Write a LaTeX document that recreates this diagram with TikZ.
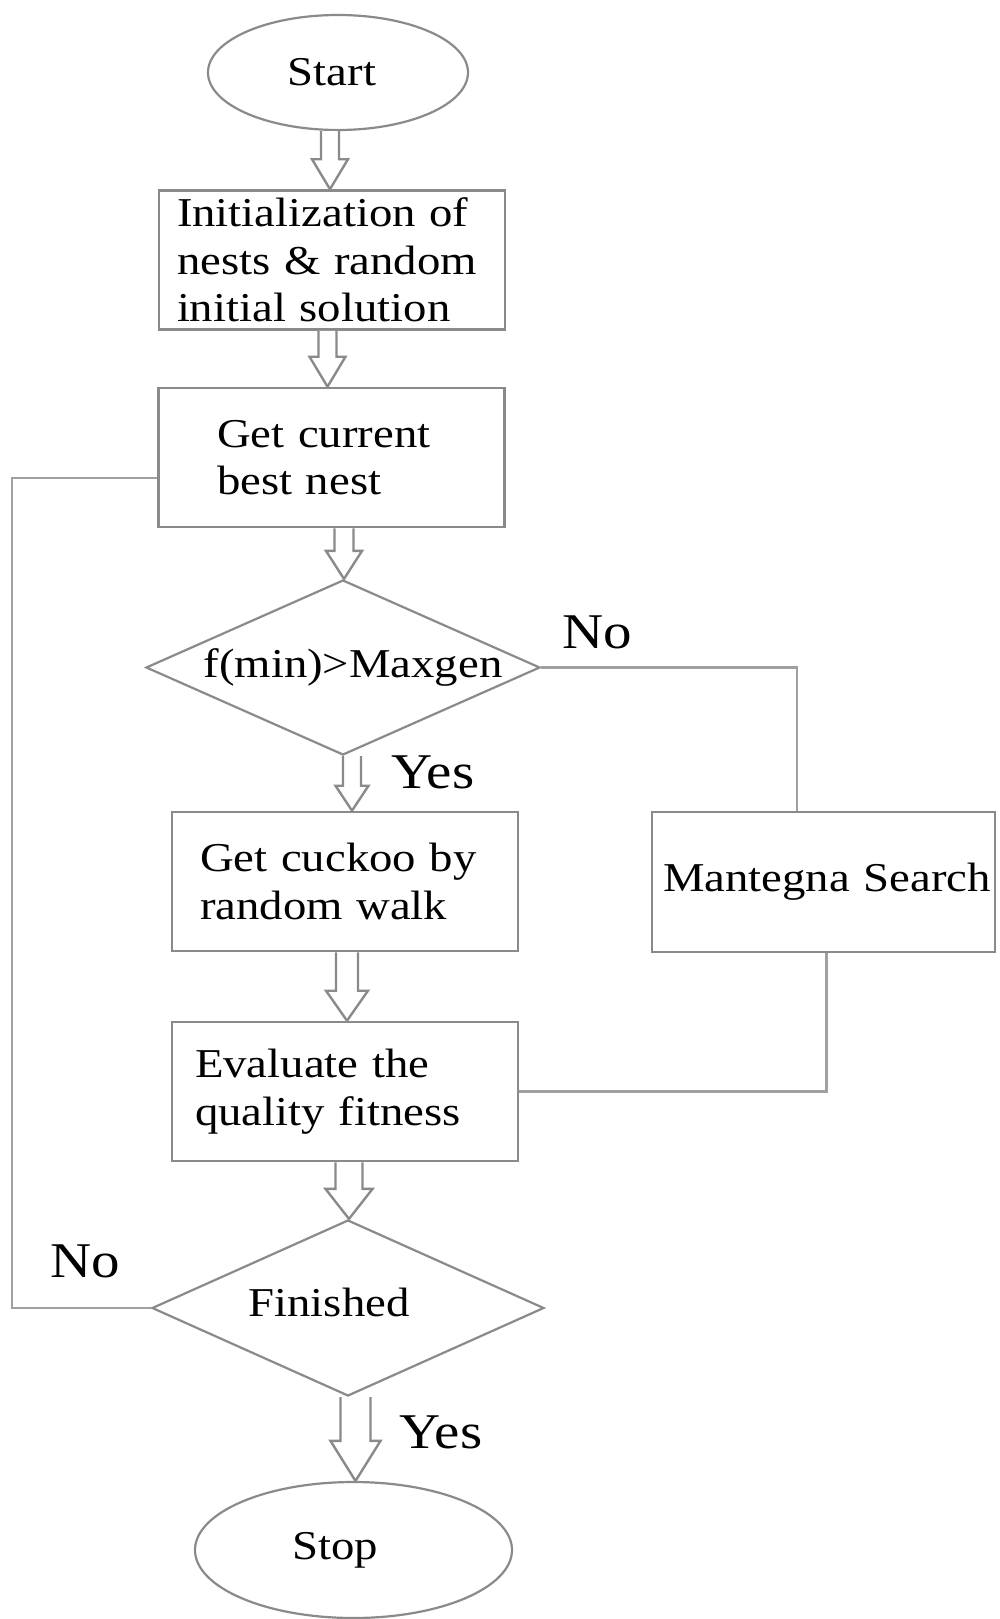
\documentclass[tikz,border=0pt]{standalone}
\usepackage{fontspec}
\setmainfont{Liberation Serif}[FakeStretch=1.14]
\usetikzlibrary{shapes.geometric,calc}

\definecolor{edge}{RGB}{138,138,138}
\definecolor{wire}{RGB}{160,160,160}

% hollow block arrow from the bottom of #1 down to the top of #2
% #3 x offset, #4 half shaft width, #5 half head width, #6 head length
\newcommand\flowarrow[6]{%
  \coordinate (fa-t) at ($(#1.south -| #2.north)+(#3,0)$);
  \coordinate (fa-h) at ($(#2.north)+(#3,0)$);
  \draw[blockarrow] ($(fa-t)+(-#4,0)$) -- ($(fa-h)+(-#4,-#6)$)
    -- ($(fa-h)+(-#5,-#6)$) -- (fa-h) -- ($(fa-h)+(#5,-#6)$)
    -- ($(fa-h)+(#4,-#6)$) -- ($(fa-t)+(#4,0)$);
}

\tikzset{
  base/.style={font=\fontsize{41pt}{47.5pt}\selectfont, text=black},
  box/.style={base, rectangle, draw=edge, line width=2.6pt, inner xsep=0pt,
    inner ysep=0pt, align=left, minimum width=346pt, minimum height=139pt},
  term/.style={ellipse, draw=edge, line width=2.2pt, inner sep=0pt},
  decision/.style={diamond, draw=edge, line width=2.2pt, inner sep=0pt,
    minimum width=394pt, minimum height=175pt},
  txt/.style={base, inner sep=0pt},
  lbl/.style={font=\fontsize{50pt}{55pt}\selectfont, text=black, inner sep=0pt},
  conn/.style={draw=wire, line width=2.6pt},
  blockarrow/.style={draw=edge, line width=2.4pt, line join=miter, fill=white},
}

\begin{document}
\begin{tikzpicture}[x=1pt, y=-1pt]
  \fill[white] (0,0) rectangle (999,1619);
  \useasboundingbox (0,0) rectangle (999,1619);

  % terminals and process steps
  \node[term, minimum width=260pt, minimum height=115pt] (start) at (338,72.5) {};
  \node[txt] (startt) at (332,72) {Start};
  \node[box, text width=310pt] (b1) at (332,260) {Initialization of\\nests \& random\\initial solution};
  \node[box, text width=229pt] (b2) at (331.5,457.5) {Get current\\best nest};
  \node[decision] (d1) at (343,667.5) {};
  \node[txt] (d1t) at (353,667) {f(min)>Maxgen};
  \node[box, text width=290pt] (b3) at (345,881.5) {Get cuckoo by\\random walk};
  \node[box, minimum width=343pt, minimum height=140pt, text width=321pt] (m) at (823.5,882)
    {\makebox[321pt][l]{Mantegna Search}};
  \node[box, text width=300pt] (b4) at (345,1091.5) {Evaluate the\\quality fitness};
  \node[decision, minimum width=392pt, minimum height=176pt] (d2) at (348,1308) {};
  \node[txt] (d2t) at (329,1302) {Finished};
  \node[term, minimum width=317pt, minimum height=136pt] (stop) at (353.5,1550) {};
  \node[txt] (stopt) at (335,1550) {Stop};

  % branch labels
  \node[lbl] (no1) at (597,632) {No};
  \node[lbl] (yes1) at (433,772) {Yes};
  \node[lbl] (no2) at (85,1261) {No};
  \node[lbl] (yes2) at (441,1432) {Yes};

  % plain connectors
  \coordinate (loopx) at (12,0);
  \draw[conn] (d1.east) -| ([xshift=-26.5pt]m.north);
  \draw[conn] ([xshift=3pt]m.south) |- (b4.east);
  \draw[conn] (d2.west) -- (d2.west -| loopx) |- ([yshift=-20.5pt]b2.west);

  % main flow
  \flowarrow{start}{b1}{-2}{9}{18}{30}
  \flowarrow{b1}{b2}{-4}{9}{18}{30}
  \flowarrow{b2}{d1}{1}{9.5}{18}{28}
  \flowarrow{d1}{b3}{7}{9}{16.5}{25}
  \flowarrow{b3}{b4}{2}{11}{21}{30}
  \flowarrow{b4}{d2}{1}{13.5}{23.5}{30}
  \flowarrow{d2}{stop}{2}{15}{25}{40}
\end{tikzpicture}
\end{document}
